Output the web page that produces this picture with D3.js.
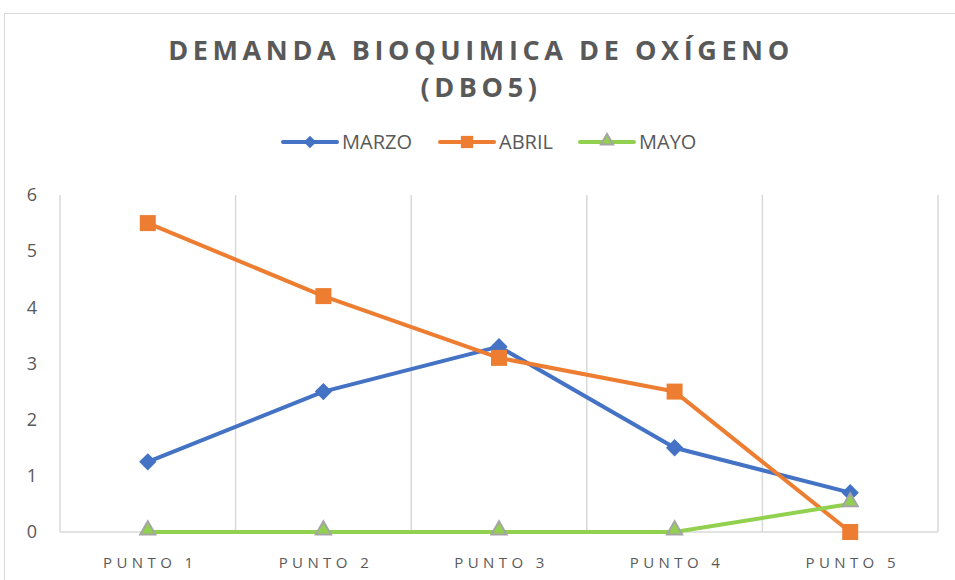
<!DOCTYPE html>
<html>
<head>
<meta charset="utf-8">
<script src="https://cdn.jsdelivr.net/npm/d3@7"></script>
<style>
  body { margin: 0; background: #fff; }
  text { font-family: "Open Sans", Roboto, "Liberation Sans", sans-serif; fill: #595959; }
</style>
</head>
<body>
<svg width="955" height="580"></svg>
<script>
const categories = ["PUNTO 1", "PUNTO 2", "PUNTO 3", "PUNTO 4", "PUNTO 5"];
const marzo = [1.25, 2.5, 3.3, 1.5, 0.7];
const abril = [5.5, 4.2, 3.1, 2.5, 0];
const mayo = [0, 0, 0, 0, 0.5];
const yTicks = [0, 1, 2, 3, 4, 5, 6];

const series = [
  { name: "MARZO", values: marzo, color: "#4472c4", shape: d3.symbolSquare, rotate: 45, size: 150, legendSize: 80 },
  { name: "ABRIL", values: abril, color: "#ed7d31", shape: d3.symbolSquare, rotate: 0, size: 256, legendSize: 150 },
  { name: "MAYO", values: mayo, color: "#92d050", shape: d3.symbolTriangle, rotate: 0, size: 100, legendSize: 65 }
];

const svg = d3.select("svg");

// chart frame
svg.append("rect")
  .attr("x", 4.5).attr("y", 13.5)
  .attr("width", 960).attr("height", 600)
  .attr("fill", "none")
  .attr("stroke", "#d9d9d9");

const margin = { left: 60, right: 17, top: 195, bottom: 48 };
const width = 955 - margin.left - margin.right;
const height = 580 - margin.top - margin.bottom;

const x = d3.scaleBand().domain(categories).range([margin.left, margin.left + width]);
const y = d3.scaleLinear().domain([0, 6]).range([margin.top + height, margin.top]);

// vertical gridlines at category boundaries
const bounds = categories.map(c => x(c)).concat([x.range()[1]]);
svg.append("g")
  .selectAll("line")
  .data(bounds)
  .enter()
  .append("line")
  .attr("x1", d => d).attr("x2", d => d)
  .attr("y1", y(6)).attr("y2", y(0))
  .attr("stroke", "#d9d9d9")
  .attr("stroke-width", 1.5);

// baseline
svg.append("line")
  .attr("x1", x.range()[0]).attr("x2", x.range()[1])
  .attr("y1", y(0)).attr("y2", y(0))
  .attr("stroke", "#d9d9d9")
  .attr("stroke-width", 1.5);

// y tick labels
svg.append("g")
  .selectAll("text")
  .data(yTicks)
  .enter()
  .append("text")
  .attr("x", 32)
  .attr("y", d => y(d))
  .attr("dy", "0.35em")
  .attr("text-anchor", "middle")
  .style("font-size", "18px")
  .text(d => d);

// x tick labels
svg.append("g")
  .selectAll("text")
  .data(categories)
  .enter()
  .append("text")
  .attr("x", d => x(d) + x.bandwidth() / 2 + 2.5)
  .attr("y", 568)
  .attr("text-anchor", "middle")
  .style("font-size", "15px")
  .style("letter-spacing", "4.4px")
  .text(d => d);

const lineGenerator = d3.line()
  .x((_d, _i) => x(categories[_i]) + x.bandwidth() / 2)
  .y(_d => y(_d));

series.forEach(s => {
  svg.append("path")
    .datum(s.values)
    .attr("d", lineGenerator)
    .attr("fill", "none")
    .attr("stroke", s.color)
    .attr("stroke-width", 4)
    .attr("stroke-linejoin", "round");

  svg.append("g")
    .selectAll("path")
    .data(s.values)
    .enter()
    .append("path")
    .attr("transform", (d, i) => `translate(${x(categories[i]) + x.bandwidth() / 2}, ${y(d) + (s.name === "MAYO" ? -2 : 0)}) rotate(${s.rotate})`)
    .attr("d", d3.symbol().type(s.shape).size(s.size))
    .attr("fill", s.color)
    .attr("stroke", s.name === "MAYO" ? "#a5a5a5" : "none")
    .attr("stroke-width", 2);
});

// title
const title = svg.append("text")
  .attr("text-anchor", "middle")
  .style("font-size", "27px")
  .style("font-weight", "bold")
  .style("letter-spacing", "4.6px");
title.append("tspan").attr("x", 481).attr("y", 60).text("DEMANDA BIOQUIMICA DE OXÍGENO");
title.append("tspan").attr("x", 481).attr("y", 97).text("(DBO5)");

// legend
const legendX = [283, 440, 580];
const legend = svg.append("g")
  .selectAll("g")
  .data(series)
  .enter()
  .append("g")
  .attr("transform", (d, i) => `translate(${legendX[i]}, 142)`);

legend.append("line")
  .attr("x1", 0).attr("x2", 54)
  .attr("stroke", d => d.color)
  .attr("stroke-width", 4)
  .attr("stroke-linecap", "round");

legend.append("path")
  .attr("transform", d => `translate(27, ${d.name === "MAYO" ? -1 : 0}) rotate(${d.rotate})`)
  .attr("d", d => d3.symbol().type(d.shape).size(d.legendSize)())
  .attr("fill", d => d.color)
  .attr("stroke", d => d.name === "MAYO" ? "#a5a5a5" : "none")
  .attr("stroke-width", 2);

legend.append("text")
  .attr("x", 59)
  .attr("dy", "0.36em")
  .style("font-size", "20px")
  .text(d => d.name);
</script>
</body>
</html>
